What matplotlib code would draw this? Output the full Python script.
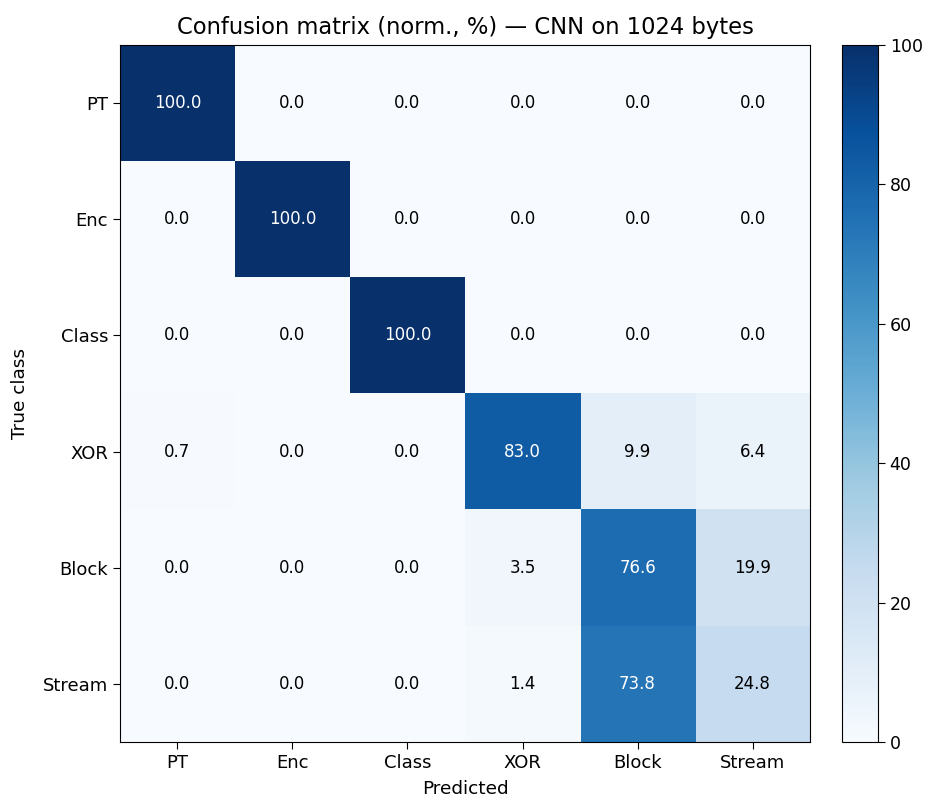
import numpy as np
import matplotlib
matplotlib.use('Agg')
import matplotlib.pyplot as plt

classes = ['PT', 'Enc', 'Class', 'XOR', 'Block', 'Stream']
cm_pct = np.array([
    [100.0, 0.0, 0.0, 0.0, 0.0, 0.0],
    [0.0, 100.0, 0.0, 0.0, 0.0, 0.0],
    [0.0, 0.0, 100.0, 0.0, 0.0, 0.0],
    [0.7, 0.0, 0.0, 83.0, 9.9, 6.4],
    [0.0, 0.0, 0.0, 3.5, 76.6, 19.9],
    [0.0, 0.0, 0.0, 1.4, 73.8, 24.8],
])

fig = plt.figure(figsize=(9.25, 7.98), dpi=100)
ax = fig.add_axes([0.1297, 0.0702, 0.746, 0.8734])
cax = fig.add_axes([0.910, 0.0702, 0.039, 0.8734])

im = ax.imshow(cm_pct, cmap='Blues', vmin=0, vmax=100, aspect='auto')
cb = fig.colorbar(im, cax=cax)
cb.ax.tick_params(labelsize=12.5, length=5)

ax.set_xticks(range(len(classes)))
ax.set_yticks(range(len(classes)))
ax.set_xticklabels(classes, fontsize=13)
ax.set_yticklabels(classes, fontsize=13)
ax.tick_params(length=5)
ax.set_xlabel('Predicted', fontsize=13.3, labelpad=6)
ax.set_ylabel('True class', fontsize=13.3, labelpad=10)
ax.set_title('Confusion matrix (norm., %) — CNN on 1024 bytes', fontsize=16.3, pad=8)

for i in range(cm_pct.shape[0]):
    for j in range(cm_pct.shape[1]):
        v = cm_pct[i, j]
        ax.text(j, i, '%.1f' % v, ha='center', va='center', fontsize=12,
                color='white' if v > 50 else 'black')

fig.savefig('out.png', dpi=100)
